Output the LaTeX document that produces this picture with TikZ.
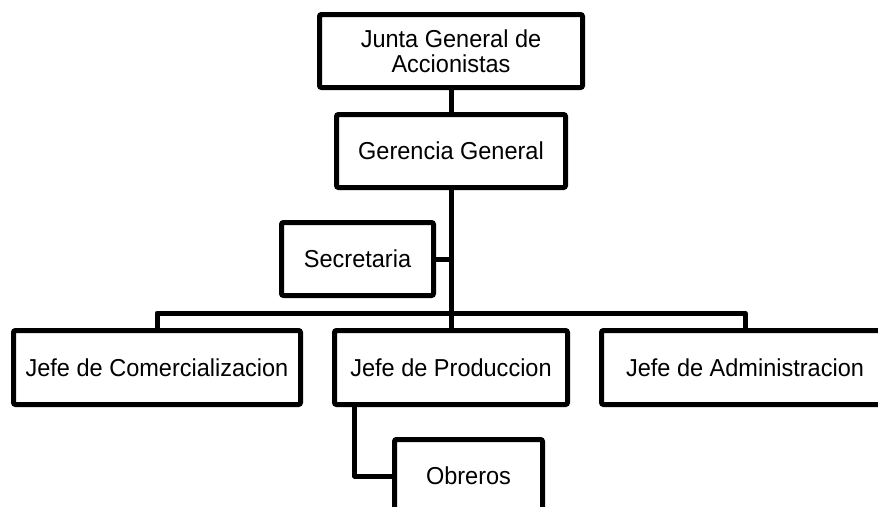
\documentclass[tikz,border=0pt]{standalone}
\usepackage{fontspec}
\setmainfont[FakeStretch=0.96]{Liberation Sans}
\usetikzlibrary{positioning,calc}
\definecolor{ink}{HTML}{000000}
\tikzset{
  box/.style={draw=ink,fill=white,line width=5pt,rounded corners=2pt,align=center,
    minimum width=#1,minimum height=73pt,inner sep=2pt,text=ink,
    font=\fontsize{24.5}{24.5}\selectfont},
  box/.default=230pt,
  link/.style={draw=ink,line width=5pt,line join=round},
}
\begin{document}
\begin{tikzpicture}[x=1pt,y=-1pt]
    \useasboundingbox (0,0) rectangle (878,506);
    \clip (0,0) rectangle (878,506);
    \node[box=263pt] (junta) at (451,51) {Junta General de\\Accionistas};
    \node[box=229pt] (gerencia) at (451,151) {Gerencia General};
    \node[box=152pt] (secretaria) at (357.5,259) {Secretaria};
    \node[box=287pt,minimum height=74pt] (comercial) at (157,367.5) {Jefe de Comercializacion};
    \node[box=233pt,minimum height=74pt] (produccion) at (451,367.5) {Jefe de Produccion};
    \node[box=287pt,minimum height=74pt] (admin) at (745,367.5) {Jefe de Administracion};
    \node[box=148pt] (obreros) at (468.5,476) {Obreros};
    \coordinate (bus) at (451,313);
    \draw[link] (junta) -- (gerencia);
    \draw[link] (gerencia) -- (produccion);
    \draw[link] (secretaria.east) -- (secretaria.east -| gerencia.south);
    \draw[link] (comercial.north) |- (bus) -| (admin.north);
    \draw[link] ([xshift=22.5pt]produccion.south west) |- (obreros.west);
  \end{tikzpicture}
\end{document}
